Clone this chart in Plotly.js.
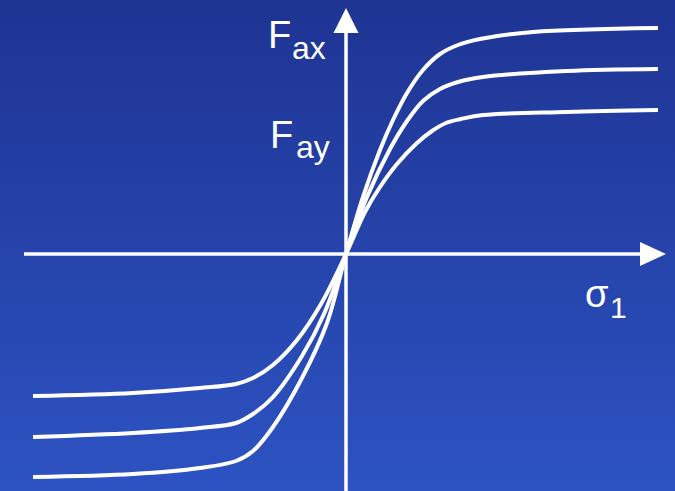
<!DOCTYPE html>
<html>
<head>
<meta charset="utf-8">
<script src="https://cdn.plot.ly/plotly-3.0.1.min.js"></script>
<style>
  html, body { margin: 0; padding: 0; }
  #chart { width: 675px; height: 491px; background: linear-gradient(to bottom, #1e3493, #2d53c2); }
</style>
</head>
<body>
<div id="chart"></div>
<script>
// Slip (sigma_1) values and force values (arbitrary units, origin at axis crossing)
const sigmaA = [-3.13, -2.13, -1.46, -1.10, -0.93, -0.73, -0.44, -0.19, 0, 0.17, 0.34, 0.47, 0.61, 0.77, 0.94, 1.12, 1.34, 1.87, 3.12];
const forceA = [-2.23, -2.20, -2.14, -2.07, -1.97, -1.73, -1.24, -0.69, 0, 0.57, 1.04, 1.34, 1.61, 1.84, 2.00, 2.09, 2.15, 2.22, 2.26];

const sigmaB = [-3.13, -2.13, -1.46, -1.10, -0.93, -0.73, -0.44, -0.22, 0, 0.21, 0.44, 0.61, 0.77, 0.94, 1.12, 1.37, 2.21, 3.12];
const forceB = [-1.83, -1.79, -1.74, -1.69, -1.60, -1.43, -1.02, -0.60, 0, 0.57, 1.05, 1.33, 1.53, 1.65, 1.72, 1.77, 1.83, 1.85];

const sigmaC = [-3.13, -2.13, -1.46, -1.10, -0.93, -0.73, -0.49, -0.25, 0, 0.19, 0.34, 0.51, 0.71, 0.86, 1.00, 1.15, 1.37, 2.21, 3.12];
const forceC = [-1.42, -1.39, -1.34, -1.30, -1.24, -1.11, -0.86, -0.50, 0, 0.42, 0.67, 0.90, 1.11, 1.23, 1.31, 1.35, 1.39, 1.42, 1.44];

const labelFax = ['F', 'ax'];
const labelFay = ['F', 'ay'];
const labelSigma = ['σ', '1'];

const W = 675, H = 491;
const px = v => v / W;
const py = v => 1 - v / H;
const FONT = '"Liberation Sans", Arial, sans-serif';

const lineStyle = {color: '#ffffff', width: 4, shape: 'spline', smoothing: 1};
const traces = [
  {x: sigmaA, y: forceA, mode: 'lines', line: lineStyle, hoverinfo: 'skip'},
  {x: sigmaB, y: forceB, mode: 'lines', line: lineStyle, hoverinfo: 'skip'},
  {x: sigmaC, y: forceC, mode: 'lines', line: lineStyle, hoverinfo: 'skip'}
];

function txt(t, xp, yp, size) {
  return {text: t, xref: 'paper', yref: 'paper', x: px(xp), y: py(yp),
          xanchor: 'left', yanchor: 'middle', showarrow: false,
          font: {family: FONT, size: size, color: '#ffffff'}};
}

const axisLine = {color: '#ffffff', width: 3.5};
const layout = {
  width: W, height: H,
  margin: {l: 0, r: 0, t: 0, b: 0},
  paper_bgcolor: 'rgba(0,0,0,0)',
  plot_bgcolor: 'rgba(0,0,0,0)',
  showlegend: false,
  xaxis: {range: [-3.46, 3.29], showgrid: false, zeroline: false, showticklabels: false, ticks: '', fixedrange: true},
  yaxis: {range: [-2.37, 2.54], showgrid: false, zeroline: false, showticklabels: false, ticks: '', fixedrange: true},
  shapes: [
    {type: 'line', xref: 'x', yref: 'y', x0: -3.22, x1: 2.96, y0: 0, y1: 0, line: axisLine},
    {type: 'path', xref: 'x', yref: 'y', path: 'M 2.94 0.12 L 3.20 0 L 2.94 -0.12 Z', fillcolor: '#ffffff', line: {width: 0}},
    {type: 'line', xref: 'x', yref: 'y', x0: 0, x1: 0, y0: -2.40, y1: 2.23, line: axisLine},
    {type: 'path', xref: 'x', yref: 'y', path: 'M -0.125 2.21 L 0 2.46 L 0.125 2.21 Z', fillcolor: '#ffffff', line: {width: 0}}
  ],
  annotations: [
    txt(labelFax[0], 266, 34.8, 38),
    txt(labelFax[1], 290, 47.9, 32),
    txt(labelFay[0], 268, 134.8, 38),
    txt(labelFay[1], 294, 146.9, 32),
    txt(labelSigma[0], 583, 293.8, 38),
    txt(labelSigma[1], 608, 307.6, 30)
  ]
};

Plotly.newPlot('chart', traces, layout, {displayModeBar: false, staticPlot: true});
</script>
</body>
</html>
